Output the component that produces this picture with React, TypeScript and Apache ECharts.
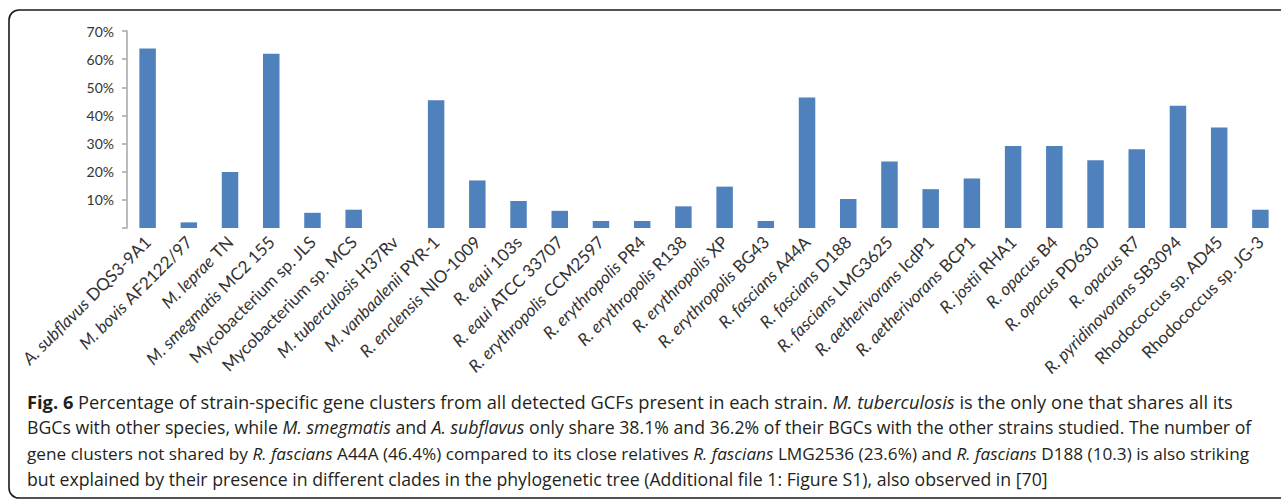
import React, { useEffect, useRef } from "react";
import * as echarts from "echarts";

const speciesItalic = [
  "A. subflavus", "M. bovis", "M. leprae", "M. smegmatis", "", "", "M. tuberculosis",
  "M. vanbaalenii", "R. enclensis", "R. equi", "R. equi", "R. erythropolis", "R. erythropolis",
  "R. erythropolis", "R. erythropolis", "R. erythropolis", "R. fascians", "R. fascians",
  "R. fascians", "R. aetherivorans", "R. aetherivorans", "R. jostii", "R. opacus", "R. opacus",
  "R. opacus", "R. pyridinovorans", "", "",
];
const strainRoman = [
  "DQS3-9A1", "AF2122/97", "TN", "MC2 155", "Mycobacterium sp. JLS", "Mycobacterium sp. MCS",
  "H37Rv", "PYR-1", "NIO-1009", "103s", "ATCC 33707", "CCM2597", "PR4", "R138", "XP", "BG43",
  "A44A", "D188", "LMG3625", "IcdP1", "BCP1", "RHA1", "B4", "PD630", "R7", "SB3094",
  "Rhodococcus sp. AD45", "Rhodococcus sp. JG-3",
];
const categories = speciesItalic.map((s, i) => (s ? s + " " : "") + strainRoman[i]);
const percentValues = [
  63.8, 2.0, 19.9, 61.9, 5.4, 6.5, 0, 45.4, 16.9, 9.6, 6.1, 2.5, 2.5, 7.7, 14.7, 2.5,
  46.4, 10.3, 23.6, 13.8, 17.6, 29.1, 29.1, 24.1, 28.0, 43.4, 35.7, 6.5,
];
const yTicks = [0, 10, 20, 30, 40, 50, 60, 70];

const captionLines = [
  "{b|Fig. 6} Percentage of strain-specific gene clusters from all detected GCFs present in each strain. {i|M. tuberculosis} is the only one that shares all its",
  "BGCs with other species, while {i|M. smegmatis} and {i|A. subflavus} only share 38.1% and 36.2% of their BGCs with the other strains studied. The number of",
  "gene clusters not shared by {i|R. fascians} A44A (46.4%) compared to its close relatives {i|R. fascians} LMG2536 (23.6%) and {i|R. fascians} D188 (10.3) is also striking",
  "but explained by their presence in different clades in the phylogenetic tree (Additional file 1: Figure S1), also observed in [70]",
];

const LABEL_FONT = "Lato, 'Open Sans', sans-serif";
const CAP_FONT = "'Open Sans', 'Noto Sans', sans-serif";
const LBL = 17;
const CAP_SIZES = [18.3, 17.7, 17.2, 17.7];

export default function App() {
  const ref = useRef<HTMLDivElement>(null);
  useEffect(() => {
    document.body.style.margin = "0";
    if (!ref.current) return;
    const chart = echarts.init(ref.current, null, { renderer: "svg" });
    chart.setOption({
      animation: false,
      backgroundColor: "#ffffff",
      grid: { left: 127, top: 31, width: 1160, height: 197, containLabel: false },
      xAxis: {
        type: "category",
        data: categories,
        axisLine: { show: false },
        axisTick: { show: false },
        axisLabel: {
          interval: 0,
          rotate: 45,
          margin: 11,
          color: "#333333",
          fontFamily: LABEL_FONT,
          fontSize: LBL,
          formatter: (_v: string, idx: number) => {
            const it = speciesItalic[idx];
            const rm = strainRoman[idx];
            return it ? `{i|${it}} {n|${rm}}` : `{n|${rm}}`;
          },
          rich: {
            i: { fontStyle: "italic", fontFamily: LABEL_FONT, fontSize: LBL, color: "#333333" },
            n: { fontFamily: LABEL_FONT, fontSize: LBL, color: "#333333" },
          },
        },
      },
      yAxis: {
        type: "value",
        min: yTicks[0],
        max: yTicks[yTicks.length - 1],
        interval: 10,
        splitLine: { show: false },
        axisLine: { show: true, lineStyle: { color: "#a6a6a6", width: 1.5 } },
        axisTick: { show: true, length: 5, lineStyle: { color: "#a6a6a6", width: 1.5 } },
        axisLabel: {
          margin: 13,
          color: "#333333",
          fontFamily: LABEL_FONT,
          fontSize: 14,
          formatter: (v: number) => (v === 0 ? "" : v + "%"),
        },
      },
      series: [
        {
          type: "bar",
          data: percentValues,
          barWidth: "40%",
          itemStyle: { color: "#4f81bd" },
        },
      ],
      graphic: [
        {
          type: "rect",
          shape: { x: 9, y: 10, width: 1290, height: 488, r: 10 },
          style: { fill: "none", stroke: "#1a1a1a", lineWidth: 1.6 },
          silent: true,
        },
        ...captionLines.map((line, k) => {
          const fs = CAP_SIZES[k];
          return {
            type: "text",
            x: 27,
            y: 401 + k * 26,
            style: {
              text: line,
              fontFamily: CAP_FONT,
              fontSize: fs,
              fill: "#231f20",
              verticalAlign: "middle",
              rich: {
                b: { fontWeight: "bold", fontFamily: CAP_FONT, fontSize: fs, fill: "#231f20" },
                i: { fontStyle: "italic", fontFamily: CAP_FONT, fontSize: fs, fill: "#231f20" },
              },
            },
          };
        }),
      ],
    });
    return () => chart.dispose();
  }, []);
  return <div ref={ref} style={{ width: 1281, height: 500 }} />;
}
